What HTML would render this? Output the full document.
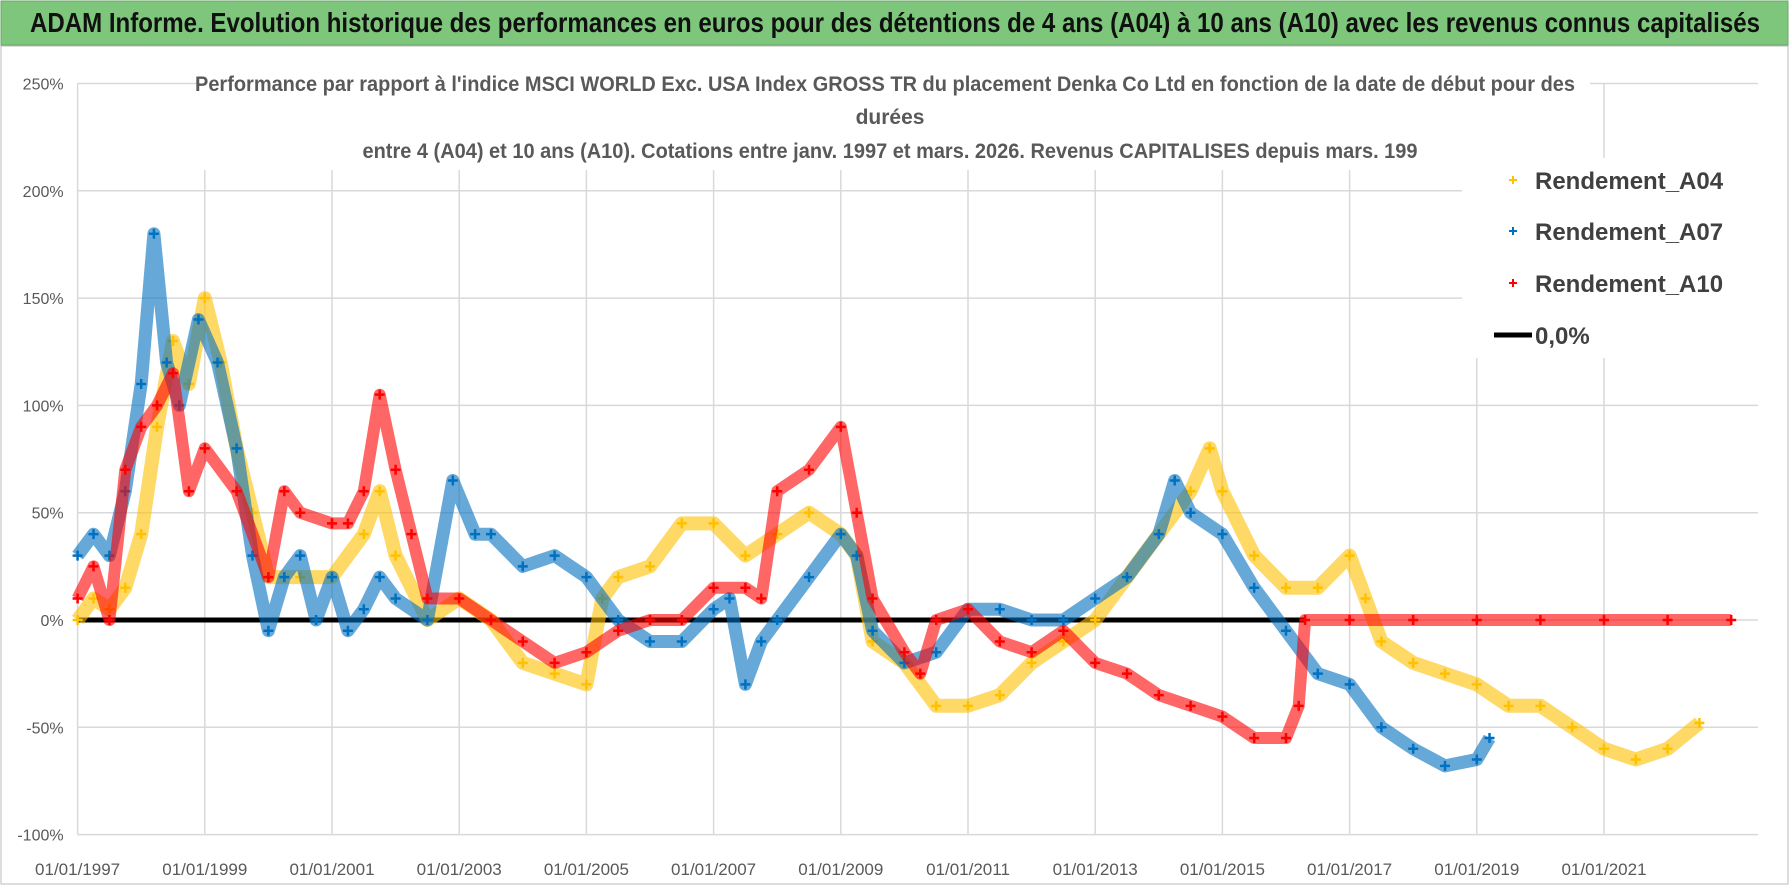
<!DOCTYPE html>
<html><head><meta charset="utf-8"><style>
html,body{margin:0;padding:0;background:#fff;}
svg{display:block;font-family:"Liberation Sans Narrow","Liberation Sans",sans-serif;}
</style></head><body>
<svg id="chart" width="1790" height="886" viewBox="0 0 1790 886">
<rect x="0" y="0" width="1790" height="886" fill="#fff"/>
<rect x="1" y="1" width="1787" height="44" fill="#7dc67b" stroke="#6aa86a"/>
<text x="895" y="32" text-anchor="middle" font-size="28" font-weight="bold" fill="#111" textLength="1730" lengthAdjust="spacingAndGlyphs">ADAM Informe. Evolution historique des performances en euros pour des détentions de 4 ans (A04) à 10 ans (A10) avec les revenus connus capitalisés</text>
<rect x="1" y="46" width="1787" height="838" fill="none" stroke="#bbb"/>
<g id="grid"></g>
<g id="series"></g>
<rect x="200" y="70" width="1390" height="100" fill="#fff"/>
<text x="885" y="91" text-anchor="middle" font-size="21" font-weight="bold" fill="#595959" textLength="1380" lengthAdjust="spacingAndGlyphs">Performance par rapport à l'indice MSCI WORLD Exc. USA Index GROSS TR  du placement Denka Co Ltd en fonction de la date de début pour des</text>
<text x="890" y="124" text-anchor="middle" font-size="21" font-weight="bold" fill="#595959">durées</text>
<text x="890" y="158" text-anchor="middle" font-size="21" font-weight="bold" fill="#595959" textLength="1055" lengthAdjust="spacingAndGlyphs">entre 4 (A04) et 10 ans (A10).  Cotations entre janv. 1997 et mars. 2026. Revenus CAPITALISES depuis mars. 199</text>
<g>
<rect x="1462" y="158" width="300" height="200" fill="#fff"/>
<g><path d="M1509 180h8M1513 176v8" stroke="#ffc000" stroke-width="2"/><text x="1535" y="189" font-size="24" font-weight="bold" fill="#404040">Rendement_A04</text></g>
<g><path d="M1509 231h8M1513 227v8" stroke="#0070c0" stroke-width="2"/><text x="1535" y="240" font-size="24" font-weight="bold" fill="#404040">Rendement_A07</text></g>
<g><path d="M1509 283h8M1513 279v8" stroke="#ff0000" stroke-width="2"/><text x="1535" y="292" font-size="24" font-weight="bold" fill="#404040">Rendement_A10</text></g>
<g><path d="M1494 335h38" stroke="#000" stroke-width="5"/><text x="1535" y="344" font-size="24" font-weight="bold" fill="#404040">0,0%</text></g>
</g>
</svg>
<script>
const yTicks=[250,200,150,100,50,0,-50,-100];
const yTickLabels=["250%","200%","150%","100%","50%","0%","-50%","-100%"];
const xTicks=[1997,1999,2001,2003,2005,2007,2009,2011,2013,2015,2017,2019,2021];
const xTickLabels=["01/01/1997","01/01/1999","01/01/2001","01/01/2003","01/01/2005","01/01/2007","01/01/2009","01/01/2011","01/01/2013","01/01/2015","01/01/2017","01/01/2019","01/01/2021"];
const a04Dates=[1997,1997.25,1997.5,1997.75,1998,1998.25,1998.5,1998.75,1999,1999.25,1999.5,1999.75,2000,2000.5,2001,2001.5,2001.75,2002,2002.5,2003,2003.5,2004,2004.5,2005,2005.25,2005.5,2006,2006.5,2007,2007.5,2008,2008.5,2009,2009.25,2009.5,2010,2010.5,2011,2011.5,2012,2012.5,2013,2013.5,2014,2014.5,2014.8,2015,2015.5,2016,2016.5,2017,2017.25,2017.5,2018,2018.5,2019,2019.5,2020,2020.5,2021,2021.5,2022,2022.5];
const a04Values=[0,10,5,15,40,90,130,110,150,120,80,50,20,20,20,40,60,30,0,10,0,-20,-25,-30,10,20,25,45,45,30,40,50,40,30,-10,-20,-40,-40,-35,-20,-10,0,20,40,60,80,60,30,15,15,30,10,-10,-20,-25,-30,-40,-40,-50,-60,-65,-60,-48];
const a07Dates=[1997,1997.25,1997.5,1997.75,1998,1998.2,1998.4,1998.6,1998.9,1999.2,1999.5,1999.75,2000,2000.25,2000.5,2000.75,2001,2001.25,2001.5,2001.75,2002,2002.5,2002.9,2003.25,2003.5,2004,2004.5,2005,2005.5,2006,2006.5,2007,2007.25,2007.5,2007.75,2008,2008.5,2009,2009.25,2009.5,2010,2010.5,2011,2011.5,2012,2012.5,2013,2013.5,2014,2014.25,2014.5,2015,2015.5,2016,2016.5,2017,2017.5,2018,2018.5,2019,2019.2];
const a07Values=[30,40,30,60,110,180,120,100,140,120,80,30,-5,20,30,0,20,-5,5,20,10,0,65,40,40,25,30,20,0,-10,-10,5,10,-30,-10,0,20,40,30,-5,-20,-15,5,5,0,0,10,20,40,65,50,40,15,-5,-25,-30,-50,-60,-68,-65,-55];
const a10Dates=[1997,1997.25,1997.5,1997.75,1998,1998.25,1998.5,1998.75,1999,1999.5,2000,2000.25,2000.5,2001,2001.25,2001.5,2001.75,2002,2002.25,2002.5,2003,2003.5,2004,2004.5,2005,2005.5,2006,2006.5,2007,2007.5,2007.75,2008,2008.5,2009,2009.25,2009.5,2010,2010.25,2010.5,2011,2011.5,2012,2012.5,2013,2013.5,2014,2014.5,2015,2015.5,2016,2016.2,2016.3,2017,2018,2019,2020,2021,2022,2023];
const a10Values=[10,25,0,70,90,100,115,60,80,60,20,60,50,45,45,60,105,70,40,10,10,0,-10,-20,-15,-5,0,0,15,15,10,60,70,90,50,10,-15,-25,0,5,-10,-15,-5,-20,-25,-35,-40,-45,-55,-55,-40,0,0,0,0,0,0,0,0];

const NS="http://www.w3.org/2000/svg";
const X0=77.6, PXY=63.6, Y0=620, PXV=2.146, XMAX=1758;
function xScale(d){return X0+(d-1997)*PXY;}
function yScale(v){return Y0-v*PXV;}
function mk(tag,attrs,parent){const e=document.createElementNS(NS,tag);for(const k in attrs)e.setAttribute(k,attrs[k]);parent.appendChild(e);return e;}
const grid=document.getElementById('grid');
const svg=document.getElementById('chart');
yTicks.forEach((t,i)=>{
  const l=mk('line',{x1:X0,x2:XMAX,y1:yScale(t),y2:yScale(t),stroke:'#d9d9d9','stroke-width':1.5},grid);
  
  
  const tx=mk('text',{x:X0-14,y:yScale(t)+6,'text-anchor':'end','font-size':16,fill:'#595959'},svg);
  tx.textContent=yTickLabels[i];
  
  
});
xTicks.forEach((t,i)=>{
  const l=mk('line',{x1:xScale(t),x2:xScale(t),y1:yScale(250),y2:yScale(-100),stroke:'#d9d9d9','stroke-width':1.5},grid);
  
  
  const tx=mk('text',{x:xScale(t),y:875,'text-anchor':'middle','font-size':17,fill:'#595959'},svg);
  tx.textContent=xTickLabels[i];
  
  
});
const layer=document.getElementById('series');
const zl=mk('line',{x1:X0,x2:xScale(2016.3),y1:yScale(0),y2:yScale(0),stroke:'#000','stroke-width':5},layer);


function drawSeries(dates,vals,color,name,w){
  const g=mk('g',{},layer);
  
  
  let pts=dates.map((d,i)=>xScale(d).toFixed(1)+','+yScale(vals[i]).toFixed(1)).join(' ');
  const pl=mk('polyline',{points:pts,fill:'none',stroke:color,'stroke-width':w,'stroke-opacity':0.6,'stroke-linejoin':'round'},g);
  
  
  let d='';
  for(let i=0;i<dates.length;i++){
    const x=xScale(dates[i]),y=yScale(vals[i]);
    d+=`M${x-5} ${y}h10M${x} ${y-5}v10`;
  }
  const p=mk('path',{d:d,stroke:color,'stroke-width':2.5,fill:'none'},g);
  
  
}
drawSeries(a04Dates,a04Values,'#ffc000','series-a04',14);
drawSeries(a07Dates,a07Values,'#0070c0','series-a07',13);
drawSeries(a10Dates,a10Values,'#ff0000','series-a10',12);
</script>
</body></html>
